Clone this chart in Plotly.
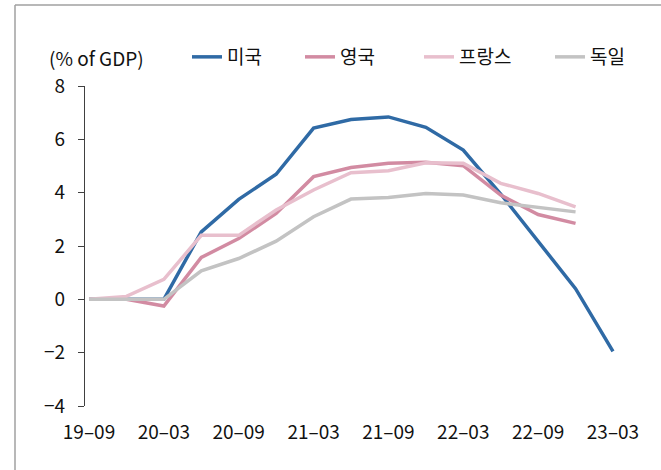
import plotly.graph_objects as go

quarters = ["19–09", "19–12", "20–03", "20–06", "20–09", "20–12", "21–03", "21–06",
            "21–09", "21–12", "22–03", "22–06", "22–09", "22–12", "23–03"]
tick_labels = ["19–09", "20–03", "20–09", "21–03", "21–09", "22–03", "22–09", "23–03"]

us = [0.0, 0.0, 0.0, 2.53, 3.75, 4.69, 6.42, 6.74, 6.84, 6.45, 5.6, 3.95, 2.2, 0.4, -1.95]
uk = [0.0, 0.0, -0.25, 1.57, 2.28, 3.22, 4.6, 4.94, 5.1, 5.14, 5.01, 3.91, 3.18, 2.85]
fr = [0.0, 0.11, 0.75, 2.4, 2.4, 3.35, 4.1, 4.75, 4.82, 5.12, 5.1, 4.35, 3.97, 3.47]
de = [0.0, 0.0, 0.0, 1.07, 1.53, 2.18, 3.1, 3.76, 3.82, 3.97, 3.91, 3.62, 3.45, 3.28]

names = ["미국", "영국", "프랑스", "독일"]
colors = ["#2f6aa5", "#d28ba2", "#e8bfcd", "#c3c3c3"]
series = [us, uk, fr, de]

FONT = "Noto Sans CJK KR, Noto Sans, sans-serif"
FS = 19
W, H = 661, 470
L, R, T, B = 85, 43, 86, 64
pw = W - L - R
ph = H - T - B

idx_of = {q: i for i, q in enumerate(quarters)}

fig = go.Figure()
legend_ids = ["legend", "legend2", "legend3", "legend4"]
for name, col, vals, lg in zip(names, colors, series, legend_ids):
    fig.add_trace(go.Scatter(
        x=list(range(len(vals))), y=vals, mode="lines", name=name,
        line=dict(color=col, width=3.5), legend=lg,
    ))

# legend text starts (px) in reference
legend_text_x = [228, 341, 460, 591]
legend_y_px = 57
for lg, tx in zip(legend_ids, legend_text_x):
    fig.update_layout({lg: dict(
        orientation="h", xref="container", yref="container",
        x=(tx - 40 - 1) / W, y=1 - legend_y_px / H, xanchor="left", yanchor="middle",
        font=dict(family=FONT, size=FS, color="#111"),
        bgcolor="rgba(0,0,0,0)", borderwidth=0,
    )})

fig.add_annotation(text="(% of GDP)", xref="paper", yref="paper",
                   x=(47 - L) / pw, y=(H - B - legend_y_px) / ph,
                   xanchor="left", yanchor="middle",
                   showarrow=False, font=dict(family=FONT, size=FS, color="#111"))

xr = [-0.107, 14.134]
tickvals = [idx_of[t] for t in tick_labels]

fig.update_layout(
    width=W, height=H,
    margin=dict(l=L, r=R, t=T, b=B, autoexpand=False),
    paper_bgcolor="white", plot_bgcolor="white",
    font=dict(family=FONT, size=FS, color="#111"),
    xaxis=dict(range=xr, tickvals=tickvals, ticktext=tick_labels,
               showline=False, ticks="", showgrid=False, zeroline=False,
               ticklabelstandoff=13, tickfont=dict(size=FS)),
    xaxis2=dict(range=xr, overlaying="x", anchor="free", position=1 / 3,
                tickvals=tickvals[1:], showticklabels=False, ticks="outside",
                ticklen=6, tickcolor="#404040", tickwidth=1.3,
                showline=True, linecolor="#404040", linewidth=1.3,
                showgrid=False, zeroline=False),
    yaxis=dict(range=[-4, 8], tickvals=[-4, -2, 0, 2, 4, 6, 8],
               ticktext=["−4", "−2", "0", "2", "4", "6", "8"],
               showline=True, linecolor="#404040", linewidth=1.3,
               ticks="outside", ticklen=6, tickcolor="#404040", tickwidth=1.3,
               showgrid=False, zeroline=False, ticklabelstandoff=9,
               tickfont=dict(size=FS)),
    showlegend=True,
)

# frame border (partially visible, as in reference)
bx = (15 - L) / pw
by = (H - B - 5) / ph
fig.add_shape(type="line", xref="paper", yref="paper", x0=bx, x1=bx, y0=-B / ph - 0.01, y1=by,
              line=dict(color="#a0a0a0", width=1.5))
fig.add_shape(type="line", xref="paper", yref="paper", x0=bx, x1=(W - L) / pw + 0.01, y0=by, y1=by,
              line=dict(color="#a0a0a0", width=1.5))

fig.write_html("out.html", config={"displayModeBar": False},
               post_script="document.body.style.margin='0';document.body.style.overflow='hidden';")
